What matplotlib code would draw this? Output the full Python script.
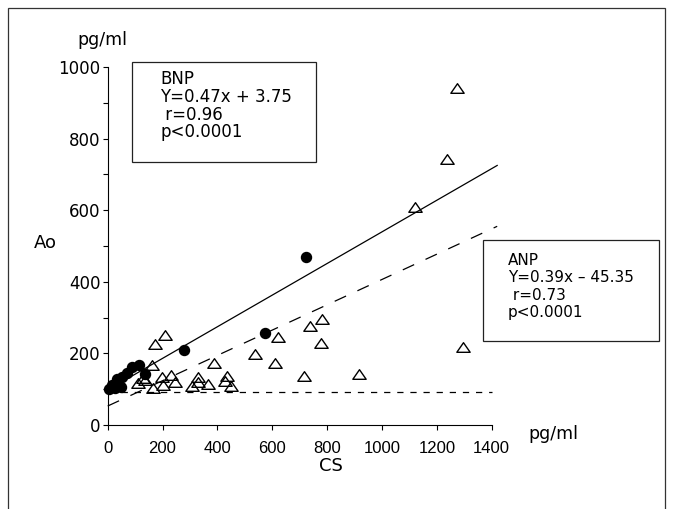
import matplotlib
matplotlib.use("Agg")
import matplotlib.pyplot as plt
from matplotlib.patches import Rectangle
from matplotlib.path import Path

plt.rcParams['font.family'] = ['DejaVu Sans']

# ---- data ----
bnp_x = [3, 15, 28, 34, 50, 52, 70, 88, 113, 137, 277, 572, 724]
bnp_y = [100, 112, 103, 128, 105, 133, 144, 163, 168, 142, 209, 257, 470]

anp_x = [112, 130, 136, 162, 166, 173, 197, 203, 209, 231, 245, 306, 331, 331, 367,
         389, 428, 434, 450, 537, 610, 620, 716, 737, 780, 776, 915, 1121, 1236, 1272, 1296]
anp_y = [117, 132, 126, 168, 102, 226, 135, 112, 251, 140, 121, 109, 135, 121, 115,
         172, 124, 137, 109, 198, 174, 245, 137, 276, 296, 228, 142, 608, 744, 940, 219]

# drawn regression lines (endpoints as drawn in the figure)
bnp_line_x = [5, 1420]
bnp_line_y = [100, 725]
anp_line_x = [0, 1420]
anp_line_y = [53, 555]
ref_line_x = [0, 1400]
ref_line_y = [93, 93]

x_ticks = [0, 200, 400, 600, 800, 1000, 1200, 1400]
y_ticks = [0, 200, 400, 600, 800, 1000]
y_minor = [100, 300, 500, 700, 900]

bnp_text = ["BNP", "Y=0.47x + 3.75", " r=0.96", "p<0.0001"]
anp_text = ["ANP", "Y=0.39x \u2013 45.35", " r=0.73", "p<0.0001"]

W, H = 673, 509
fig = plt.figure(figsize=(W / 100, H / 100), dpi=100)
fig.patch.set_facecolor('white')

ax = fig.add_axes([107.7 / W, 1 - 425 / H, 384 / W, 358 / H])
ax.set_xlim(0, 1400)
ax.set_ylim(0, 1000)
for s in ['top', 'right']:
    ax.spines[s].set_visible(False)
for s in ['left', 'bottom']:
    ax.spines[s].set_linewidth(0.8)

ax.set_xticks(x_ticks)
ax.set_xticklabels([str(v) for v in x_ticks], fontfamily='Liberation Sans', fontsize=12)
ax.set_yticks(y_ticks)
ax.set_yticklabels([str(v) for v in y_ticks], fontfamily='DejaVu Sans', fontsize=12)
ax.set_yticks(y_minor, minor=True)
ax.tick_params(axis='x', which='both', length=3.6, width=0.8, direction='out', pad=8)
ax.tick_params(axis='y', which='both', length=3.6, width=0.8, direction='out', pad=1.5)

# lines
ax.plot(bnp_line_x, bnp_line_y, color='black', lw=0.9, clip_on=False, zorder=2)
ax.plot(anp_line_x, anp_line_y, color='black', lw=0.9, dashes=(10, 10), clip_on=False, zorder=2)
ax.plot(ref_line_x, ref_line_y, color='black', lw=0.9, dashes=(5, 5.5), clip_on=False, zorder=1)

# markers
tri = Path([(0, 0.72), (-1, -0.72), (1, -0.72), (0, 0.72)],
           [Path.MOVETO, Path.LINETO, Path.LINETO, Path.CLOSEPOLY])
ax.plot(anp_x, anp_y, linestyle='none', marker=tri, markersize=9.6,
        mfc='none', mec='black', mew=1.0, clip_on=False, zorder=3)
ax.plot(bnp_x, bnp_y, linestyle='none', marker='o', markersize=7.2,
        mfc='black', mec='black', clip_on=False, zorder=4)


def ftxt(x, y, s, **kw):
    fig.text(x / W, 1 - y / H, s, **kw)


def box(x0, y0, x1, y1):
    fig.add_artist(Rectangle((x0 / W, 1 - y1 / H), (x1 - x0) / W, (y1 - y0) / H,
                             transform=fig.transFigure, fill=False,
                             edgecolor='#222222', lw=0.9))


# outer frame
fig.add_artist(Rectangle((7.5 / W, -0.02), (665 - 7.5) / W, 1 - 7.5 / H + 0.02,
                         transform=fig.transFigure, fill=False, edgecolor='#333333', lw=0.9))

# axis labels
ftxt(102, 40, "pg/ml", ha='center', va='center', fontsize=12.5)
ftxt(45, 243, "Ao", ha='center', va='center', fontsize=13)
ftxt(331, 466, "CS", ha='center', va='center', fontsize=13)
ftxt(553, 434, "pg/ml", ha='center', va='center', fontsize=12.5)

# text boxes
box(132, 62, 316, 162)
for s, yb in zip(bnp_text, [84, 101.5, 120, 137]):
    ftxt(160, yb, s, ha='left', va='baseline', fontsize=12)

box(483, 240, 659, 341)
for s, yb in zip(anp_text, [265, 282, 300, 317]):
    ftxt(508, yb, s, ha='left', va='baseline', fontsize=11)

fig.savefig("out.png", dpi=100)
